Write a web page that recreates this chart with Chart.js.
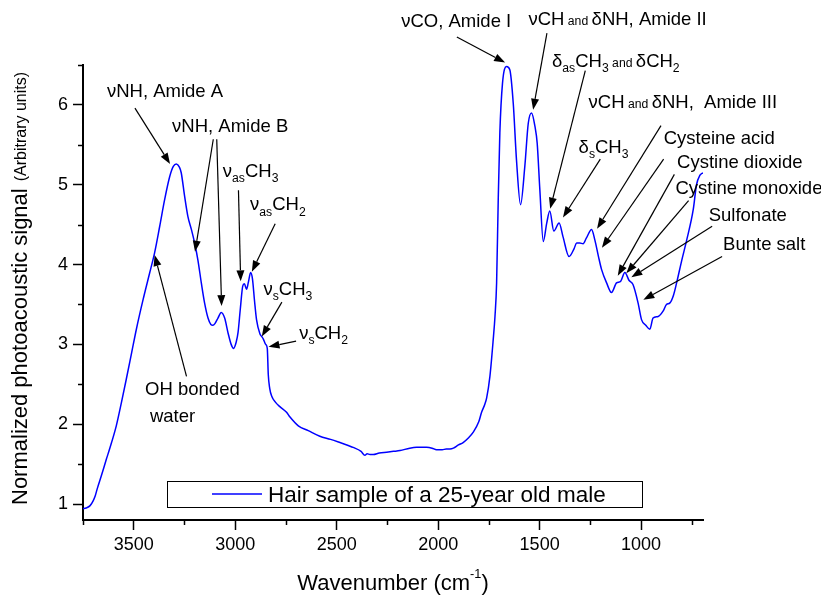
<!DOCTYPE html>
<html><head><meta charset="utf-8">
<script src="https://cdn.jsdelivr.net/npm/chart.js@4.4.0/dist/chart.umd.min.js"></script>
<style>html,body{margin:0;padding:0;background:#fff}#wrap{width:821px;height:595px;position:relative}</style>
</head><body><div id="wrap"><canvas id="c" width="821" height="595"></canvas></div>
<script>
// ---------- data ----------
const wavenumbers = [
 3750,3735,3715,3700,3690,3680,3660,3635,3619,3586,3560,3537,3510,3487,3454,3421,3397,3372,3348,3323,
 3305,3290,3275,3266,3249,3233,3216,3200,3184,3167,3151,3134,3120,3110,3100,3085,3069,3052,3035,3020,
 3008,2995,2986,2975,2963,2955,2944,2935,2924,2915,2905,2895,2878,2870,2862,2850,2842,2837,2830,2820,
 2800,2780,2747,2730,2689,2640,2583,2530,2484,2440,2419,2380,2361,2350,2336,2320,2290,2254,2220,2188,
 2140,2106,2057,2030,2008,1980,1960,1942,1925,1900,1877,1850,1827,1800,1786,1770,1761,1745,1729,1720,
 1712,1704,1696,1683,1663,1647,1630,1614,1594,1573,1556,1540,1523,1512,1499,1482,1465,1450,1430,1404,
 1385,1355,1330,1318,1302,1286,1270,1244,1228,1210,1195,1170,1146,1121,1101,1080,1059,1040,1015,998,
 977,957,941,916,891,875,858,840,825,800,776,743,727,710,695
];
const signal = [
 0.94,0.95,0.98,1.04,1.10,1.19,1.35,1.56,1.69,1.98,2.28,2.56,2.90,3.19,3.56,3.90,4.15,4.48,4.81,5.10,
 5.23,5.26,5.22,5.15,4.85,4.60,4.44,4.27,4.06,3.77,3.52,3.33,3.25,3.24,3.26,3.33,3.40,3.33,3.14,3.00,
 2.95,3.03,3.15,3.44,3.73,3.76,3.69,3.78,3.90,3.82,3.55,3.31,3.13,3.10,3.07,3.00,2.95,2.62,2.45,2.35,
 2.27,2.22,2.15,2.09,1.98,1.92,1.85,1.81,1.77,1.73,1.71,1.66,1.61,1.63,1.62,1.62,1.64,1.65,1.66,1.67,
 1.70,1.71,1.71,1.70,1.68,1.68,1.69,1.69,1.70,1.74,1.77,1.83,1.90,2.03,2.15,2.25,2.33,2.60,3.05,3.35,
 3.77,4.81,5.65,6.27,6.48,6.44,6.02,5.31,4.75,5.23,5.77,5.90,5.73,5.52,4.94,4.29,4.52,4.67,4.42,4.52,
 4.35,4.10,4.20,4.27,4.27,4.26,4.33,4.44,4.31,4.10,3.94,3.77,3.65,3.77,3.79,3.90,3.80,3.75,3.52,3.31,
 3.24,3.19,3.33,3.35,3.42,3.50,3.52,3.62,3.77,4.05,4.30,4.69,5.00,5.12,5.15
];
const seriesLabel = 'Hair sample of a 25-year old male';
const xTickValues = [3500, 3000, 2500, 2000, 1500, 1000];
const xMinorTicks = [3750, 3250, 2750, 2250, 1750, 1250, 750];
const yTickValues = [1, 2, 3, 4, 5, 6];
const yMinorTicks = [1.5, 2.5, 3.5, 4.5, 5.5, 6.5];
const xTitleParts = [['Wavenumber (cm'], ['-1', 'sup'], [')']];
const yTitleParts = [['Normalized photoacoustic signal'], ['(Arbitrary units)', 'small']];

// annotation labels: text segments, label anchor [wavenumber, signal], arrows [fromX, fromY, toX, toY] in data units
const annotationLabels = [
 {segs:[['νNH, Amide A']], at:[3632, 6.10], arrows:[[3494, 5.96, 3321, 5.26]]},
 {segs:[['νNH, Amide B']], at:[3311, 5.66], arrows:[[3108, 5.57, 3198, 4.16], [3091, 5.57, 3067, 3.48]]},
 {segs:[['ν'], ['as','sub'], ['CH'], ['3','sub']], at:[3061, 5.10], arrows:[[2984, 4.93, 2973, 3.79]]},
 {segs:[['ν'], ['as','sub'], ['CH'], ['2','sub']], at:[2927, 4.68], arrows:[[2803, 4.51, 2918, 3.91]]},
 {segs:[['ν'], ['s','sub'], ['CH'], ['3','sub']], at:[2861, 3.62], arrows:[[2770, 3.53, 2869, 3.10]]},
 {segs:[['ν'], ['s','sub'], ['CH'], ['2','sub']], at:[2685, 3.07], arrows:[[2700, 3.04, 2836, 2.97]]},
 {segs:[['OH bonded']], at:[3444, 2.37], arrows:[[3240, 2.60, 3397, 4.12]]},
 {segs:[['water']], at:[3420, 2.03], arrows:[]},
 {segs:[['νCO, Amide I']], at:[2182, 6.98], arrows:[[1908, 6.85, 1670, 6.53]]},
 {segs:[['νCH'], [' and ','small'], ['δNH, Amide II']], at:[1555, 7.00], arrows:[[1464, 6.90, 1532, 5.94]]},
 {segs:[['δ'], ['as','sub'], ['CH'], ['3','sub'], [' and ','small'], ['δCH'], ['2','sub']], at:[1439, 6.48], arrows:[[1275, 6.43, 1448, 4.70]]},
 {segs:[['νCH'], [' and ','small'], ['δNH,  Amide III']], at:[1259, 5.96], arrows:[[902, 5.74, 1217, 4.45]]},
 {segs:[['δ'], ['s','sub'], ['CH'], ['3','sub']], at:[1308, 5.40], arrows:[[1201, 5.32, 1385, 4.59]]},
 {segs:[['Cysteine acid']], at:[889, 5.51], arrows:[[889, 5.32, 1193, 4.21]]},
 {segs:[['Cystine dioxide']], at:[823, 5.21], arrows:[[836, 5.13, 1115, 3.86]]},
 {segs:[['Cystine monoxide']], at:[831, 4.89], arrows:[[766, 4.80, 1073, 3.89]]},
 {segs:[['Sulfonate']], at:[667, 4.54], arrows:[[650, 4.48, 1048, 3.84]]},
 {segs:[['Bunte salt']], at:[596, 4.18], arrows:[[601, 4.10, 989, 3.56]]}
];

// ---------- drawing ----------
const FONT = '"Liberation Sans", Arial, Helvetica, sans-serif';
function drawRich(ctx, segs, x, y, base) {
  let cx = x;
  for (const [t, k] of segs) {
    let size = base, dy = 0;
    if (k === 'sub') { size = base * 0.66; dy = base * 0.3; }
    else if (k === 'sup') { size = base * 0.58; dy = -base * 0.55; }
    else if (k === 'small') { size = base * 0.66; }
    ctx.font = size + 'px ' + FONT;
    ctx.fillText(t, cx, y + dy);
    cx += ctx.measureText(t).width;
  }
  return cx - x;
}
function measureRich(ctx, segs, base) {
  let w = 0;
  for (const [t, k] of segs) {
    let size = base;
    if (k === 'sub' || k === 'small') size = base * 0.66;
    else if (k === 'sup') size = base * 0.58;
    ctx.font = size + 'px ' + FONT;
    w += ctx.measureText(t).width;
  }
  return w;
}
function arrow(ctx, x1, y1, x2, y2) {
  const a = Math.atan2(y2 - y1, x2 - x1), L = 11, W = 4;
  const bx = x2 - L * Math.cos(a), by = y2 - L * Math.sin(a);
  ctx.beginPath(); ctx.moveTo(x1, y1); ctx.lineTo(bx, by); ctx.stroke();
  ctx.beginPath();
  ctx.moveTo(x2, y2);
  ctx.lineTo(bx + W * Math.sin(a), by - W * Math.cos(a));
  ctx.lineTo(bx - W * Math.sin(a), by + W * Math.cos(a));
  ctx.closePath(); ctx.fill();
}

const decor = {
  id: 'decor',
  afterDraw(chart) {
    const ctx = chart.ctx, xs = chart.scales.x, ys = chart.scales.y, area = chart.chartArea;
    ctx.save();
    ctx.strokeStyle = '#000'; ctx.fillStyle = '#000'; ctx.lineWidth = 1.5;
    // minor ticks
    for (const v of xMinorTicks) {
      const px = Math.round(xs.getPixelForValue(v)) + 0.5;
      ctx.beginPath(); ctx.moveTo(px, area.bottom); ctx.lineTo(px, area.bottom + 5); ctx.stroke();
    }
    for (const v of yMinorTicks) {
      const py = Math.round(ys.getPixelForValue(v)) + 0.5;
      ctx.beginPath(); ctx.moveTo(area.left, py); ctx.lineTo(area.left - 5, py); ctx.stroke();
    }
    // annotations
    ctx.lineWidth = 1.2; ctx.textBaseline = 'alphabetic'; ctx.textAlign = 'left';
    for (const a of annotationLabels) {
      drawRich(ctx, a.segs, xs.getPixelForValue(a.at[0]), ys.getPixelForValue(a.at[1]), 18.5);
      for (const r of a.arrows) {
        arrow(ctx, xs.getPixelForValue(r[0]), ys.getPixelForValue(r[1]), xs.getPixelForValue(r[2]), ys.getPixelForValue(r[3]));
      }
    }
    // legend
    const lx = 167.5, ly = 481.5, lw = 475, lh = 26;
    ctx.lineWidth = 1; ctx.strokeStyle = '#000';
    ctx.strokeRect(lx, ly, lw, lh);
    const ds = chart.data.datasets[0];
    ctx.strokeStyle = ds.borderColor; ctx.lineWidth = ds.borderWidth;
    ctx.beginPath(); ctx.moveTo(212, 494); ctx.lineTo(262, 494); ctx.stroke();
    ctx.fillStyle = '#000'; ctx.font = '22.5px ' + FONT;
    ctx.fillText(ds.label, 268, 502);
    // x title
    const xw = measureRich(ctx, xTitleParts, 22);
    drawRich(ctx, xTitleParts, (area.left + area.right) / 2 - xw / 2, 590, 22);
    // y title (rotated)
    ctx.save();
    ctx.translate(27, 505); ctx.rotate(-Math.PI / 2);
    ctx.font = '22px ' + FONT;
    ctx.fillText(yTitleParts[0][0], 0, 0);
    const w0 = ctx.measureText(yTitleParts[0][0]).width;
    ctx.font = '16px ' + FONT;
    ctx.fillText(yTitleParts[1][0], w0 + 7, -1);
    ctx.restore();
    ctx.restore();
  }
};

const tickFont = {family: FONT, size: 18};
new Chart(document.getElementById('c'), {
  type: 'line',
  data: {
    datasets: [{
      label: seriesLabel,
      data: wavenumbers.map((w, i) => ({x: w, y: signal[i]})),
      borderColor: '#0000ff', borderWidth: 1.5, pointRadius: 0,
      cubicInterpolationMode: 'monotone', fill: false
    }]
  },
  options: {
    responsive: false, animation: false, devicePixelRatio: 1,
    layout: {padding: {top: 65, right: 118, left: 0, bottom: 0}},
    plugins: {legend: {display: false}, tooltip: {enabled: false}},
    scales: {
      x: {
        type: 'linear', reverse: true, min: 695, max: 3750,
        afterBuildTicks: s => { s.ticks = xTickValues.map(v => ({value: v})); },
        afterFit: s => { s.height = 75; },
        grid: {display: true, drawOnChartArea: false, drawTicks: true, tickLength: 10, tickColor: '#000', tickWidth: 1.5},
        border: {display: true, color: '#000', width: 2},
        ticks: {font: tickFont, color: '#000', padding: 4, maxRotation: 0, autoSkip: false, callback: v => String(v)}
      },
      y: {
        type: 'linear', min: 0.8, max: 6.5,
        afterBuildTicks: s => { s.ticks = yTickValues.map(v => ({value: v})); },
        afterFit: s => { s.width = 83; },
        grid: {display: true, drawOnChartArea: false, drawTicks: true, tickLength: 10, tickColor: '#000', tickWidth: 1.5},
        border: {display: true, color: '#000', width: 2},
        ticks: {font: tickFont, color: '#000', padding: 5, callback: v => String(v)}
      }
    }
  },
  plugins: [decor]
});
</script>
</body></html>
